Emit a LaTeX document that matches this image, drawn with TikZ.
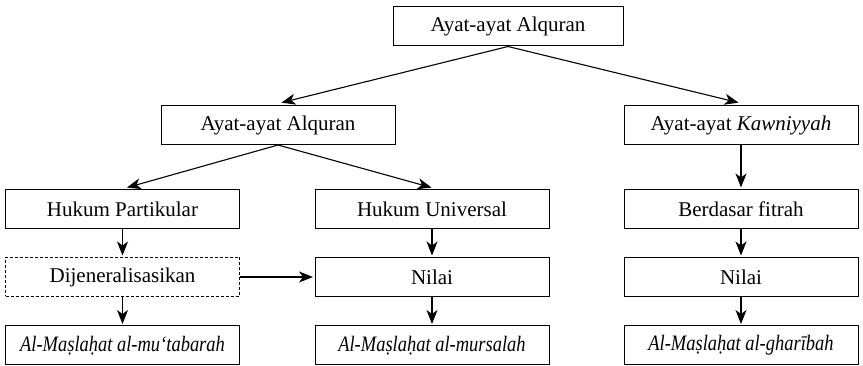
\documentclass[tikz,border=0pt]{standalone}
\usepackage{fontspec}
\setmainfont{Liberation Serif}
\newfontfamily\narrowserif[FakeStretch=0.84]{Liberation Serif}
\usetikzlibrary{arrows.meta}
\tikzset{
  box/.style={draw, line width=1pt, rectangle, minimum width=234pt, minimum height=39pt,
    inner sep=0pt, font=\fontsize{21}{24}\selectfont},
  dashbox/.style={box, dash pattern=on 3pt off 2pt},
  arr/.style={line width=1.1pt, shorten >=1.5pt,
    -{Stealth[length=14pt,width=11pt,inset=4pt]}},
  term/.style={box, font=\fontsize{22}{24}\selectfont\narrowserif\itshape}
}
\begin{document}
\begin{tikzpicture}[x=1pt,y=-1pt]
\useasboundingbox (0,0) rectangle (863,366);

% top level
\node[box, minimum width=230pt] (root) at (508,26.5) {Ayat-ayat Alquran};

% second level
\node[box] (quran) at (278,125) {Ayat-ayat Alquran};
\node[box] (kawn) at (741,125) {Ayat-ayat \textit{Kawniyyah}};

% third level
\node[box] (part) at (122.5,209) {Hukum Partikular};
\node[box] (univ) at (432,209) {Hukum Universal};
\node[box] (fitr) at (741,209) {Berdasar fitrah};

% fourth level
\node[dashbox] (gen) at (122.5,277) {Dijeneralisasikan};
\node[box] (nil1) at (432,277) {Nilai};
\node[box] (nil2) at (741,277) {Nilai};

% bottom level
\node[term] (mut) at (122.5,345.5) {Al-Maṣlaḥat al-mu‘tabarah};
\node[term] (mur) at (432,345.5) {Al-Maṣlaḥat al-mursalah};
\node[term] (gha) at (741,345.5) {Al-Maṣlaḥat al-gharībah};

% connectors
\draw[arr] (root.south) -- ([xshift=2pt,yshift=2pt]quran.north);
\draw[arr] (root.south) -- ([xshift=-1pt,yshift=2pt]kawn.north);
\draw[arr] (quran.south) -- ([xshift=3pt,yshift=1pt]part.north);
\draw[arr] (quran.south) -- ([xshift=1pt,yshift=1pt]univ.north);
\draw[arr] (kawn.south) -- (fitr.north);
\draw[arr] (part.south) -- (gen.north);
\draw[arr] (gen.south) -- (mut.north);
\draw[arr] (univ.south) -- (nil1.north);
\draw[arr] (nil1.south) -- (mur.north);
\draw[arr] (fitr.south) -- (nil2.north);
\draw[arr] (nil2.south) -- (gha.north);
\draw[arr] (gen.east) -- (nil1.west);
\end{tikzpicture}
\end{document}
